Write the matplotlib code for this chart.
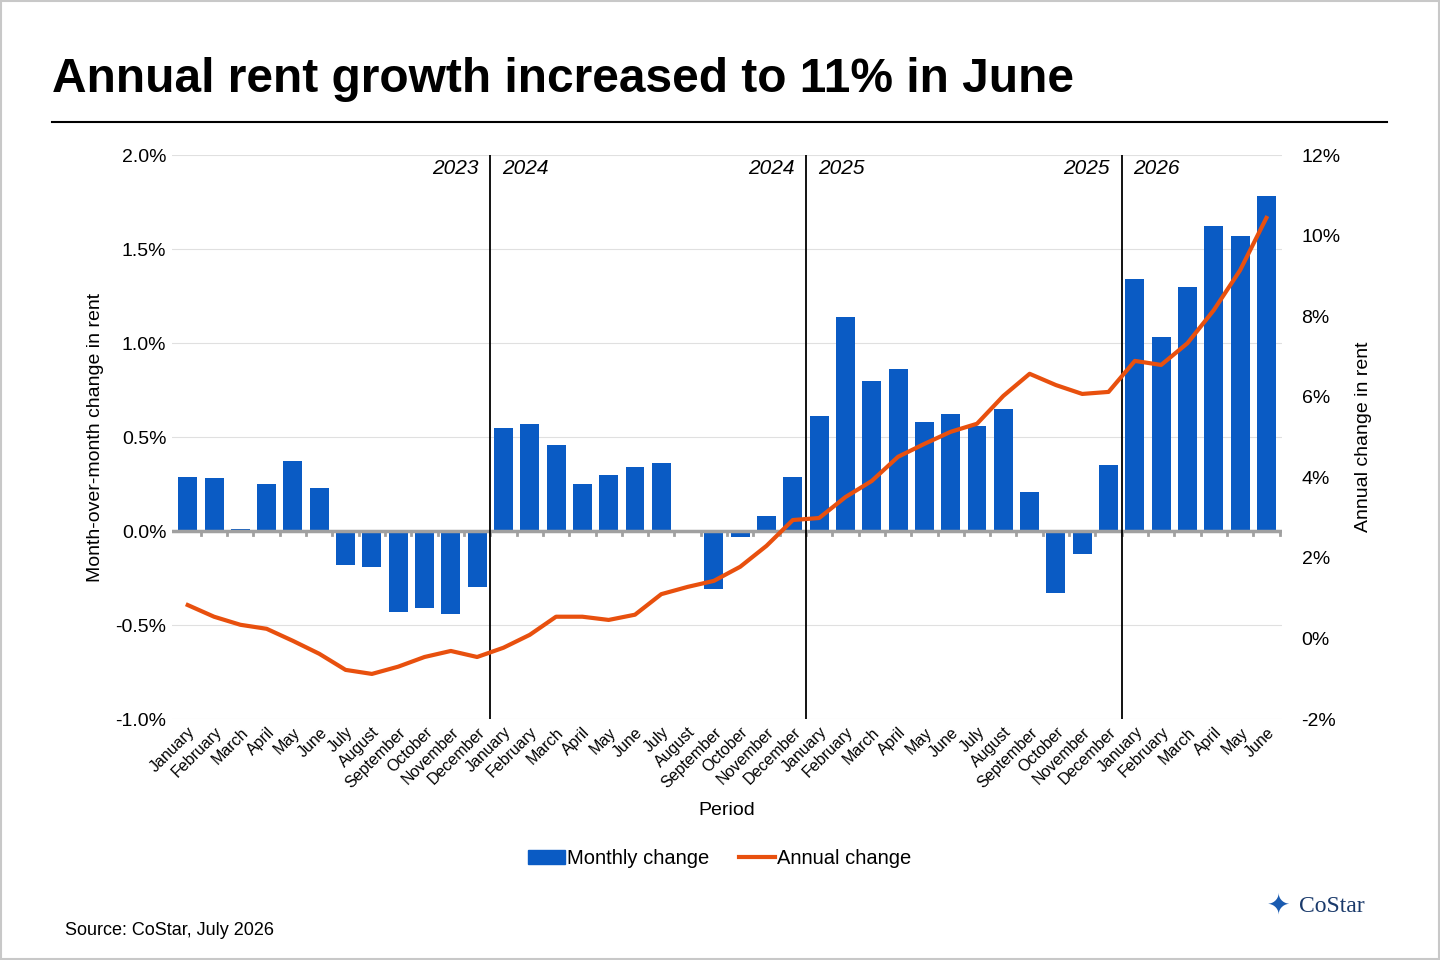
import numpy as np
import matplotlib.pyplot as plt
from matplotlib.lines import Line2D
from matplotlib.patches import Patch

plt.rcParams["font.family"] = ["Liberation Sans", "DejaVu Sans"]

MONTHS = ["January", "February", "March", "April", "May", "June", "July",
          "August", "September", "October", "November", "December"]
labels = MONTHS * 3 + MONTHS[:6]

# Month-over-month change (%)
monthly = [0.29, 0.28, 0.01, 0.25, 0.37, 0.23, -0.18, -0.19, -0.43, -0.41, -0.44, -0.30,
           0.55, 0.57, 0.46, 0.25, 0.30, 0.34, 0.36, -0.01, -0.31, -0.03, 0.08, 0.29,
           0.61, 1.14, 0.80, 0.86, 0.58, 0.62, 0.56, 0.65, 0.21, -0.33, -0.12, 0.35,
           1.34, 1.03, 1.30, 1.62, 1.57, 1.78]
# Annual change (%)
annual = [0.83, 0.54, 0.34, 0.24, -0.06, -0.38, -0.78, -0.88, -0.70, -0.46, -0.31, -0.46,
          -0.23, 0.09, 0.54, 0.54, 0.46, 0.59, 1.10, 1.28, 1.43, 1.78, 2.30, 2.94,
          2.99, 3.51, 3.91, 4.51, 4.83, 5.13, 5.33, 6.02, 6.57, 6.29, 6.07, 6.12,
          6.89, 6.79, 7.33, 8.15, 9.14, 10.44]
year_splits = [(11.5, "2023", "2024"), (23.5, "2024", "2025"), (35.5, "2025", "2026")]

BLUE = "#0a5bc4"
ORANGE = "#e8500e"

fig = plt.figure(figsize=(14.4, 9.6), dpi=100)
ax = fig.add_axes([0.1194, 0.251, 0.771, 0.5875])
x = np.arange(len(monthly))
ax.bar(x, monthly, width=0.72, color=BLUE, zorder=2)
ax.set_ylim(-1.0, 2.0)
ax.set_xlim(-0.6, len(monthly) - 0.4)
ax.set_yticks(np.arange(-1.0, 2.01, 0.5))
ax.set_yticklabels([f"{v:.1f}%" for v in np.arange(-1.0, 2.01, 0.5)], fontsize=14)
ax.yaxis.grid(True, color="#e0e0e0", lw=0.8, zorder=0)
ax.axhline(0, color="#a0a0a0", lw=2.5, zorder=3)
for xi in x:
    ax.plot([xi + 0.5, xi + 0.5], [0, -0.02], color="#a0a0a0", lw=2, zorder=3)
ax.set_xticks(x)
ax.set_xticklabels(labels, rotation=45, ha="right", rotation_mode="anchor", fontsize=11.5)
ax.tick_params(length=0, pad=4)
ax.set_xlabel("Period", fontsize=14, labelpad=8)
ax.set_ylabel("Month-over-month change in rent", fontsize=14, labelpad=8)
for s in ax.spines.values():
    s.set_visible(False)

for xs, left, right in year_splits:
    ax.axvline(xs, color="black", lw=1.3, zorder=4)
    ax.text(xs - 0.45, 1.93, left, ha="right", va="center", style="italic", fontsize=15)
    ax.text(xs + 0.45, 1.93, right, ha="left", va="center", style="italic", fontsize=15)

ax2 = ax.twinx()
ax2.plot(x, annual, color=ORANGE, lw=3, zorder=5)
ax2.set_ylim(-2, 12)
ax2.set_yticks(range(-2, 13, 2))
ax2.set_yticklabels([f"{v}%" for v in range(-2, 13, 2)], fontsize=14)
ax2.tick_params(length=0, pad=14)
ax2.set_ylabel("Annual change in rent", fontsize=14, labelpad=10)
for s in ax2.spines.values():
    s.set_visible(False)

fig.legend(handles=[Patch(color=BLUE, label="Monthly change"),
                    Line2D([], [], color=ORANGE, lw=3, label="Annual change")],
           loc="center", bbox_to_anchor=(0.5, 0.106), ncol=2, frameon=False,
           fontsize=14.5, handlelength=1.8, handletextpad=0.1, columnspacing=1.5)

fig.text(0.036, 0.917, "Annual rent growth increased to 11% in June",
         fontsize=34.5, fontweight="bold", va="center")
fig.add_artist(Line2D([0.036, 0.963], [0.873, 0.873], color="black", lw=1.5))
fig.text(0.045, 0.031, "Source: CoStar, July 2026", fontsize=13, va="center")
fig.text(0.902, 0.056, "CoStar", fontsize=17, family="Liberation Serif",
         color="#1a3a6b", va="center")
fig.text(0.888, 0.056, "\u2726", fontsize=20, color="#1a5bb0", va="center", ha="center")
fig.add_artist(plt.Rectangle((0.001, 0.001), 0.998, 0.998, fill=False,
                             ec="#c8c8c8", lw=1.5, transform=fig.transFigure))

fig.savefig("out.png", dpi=100)
